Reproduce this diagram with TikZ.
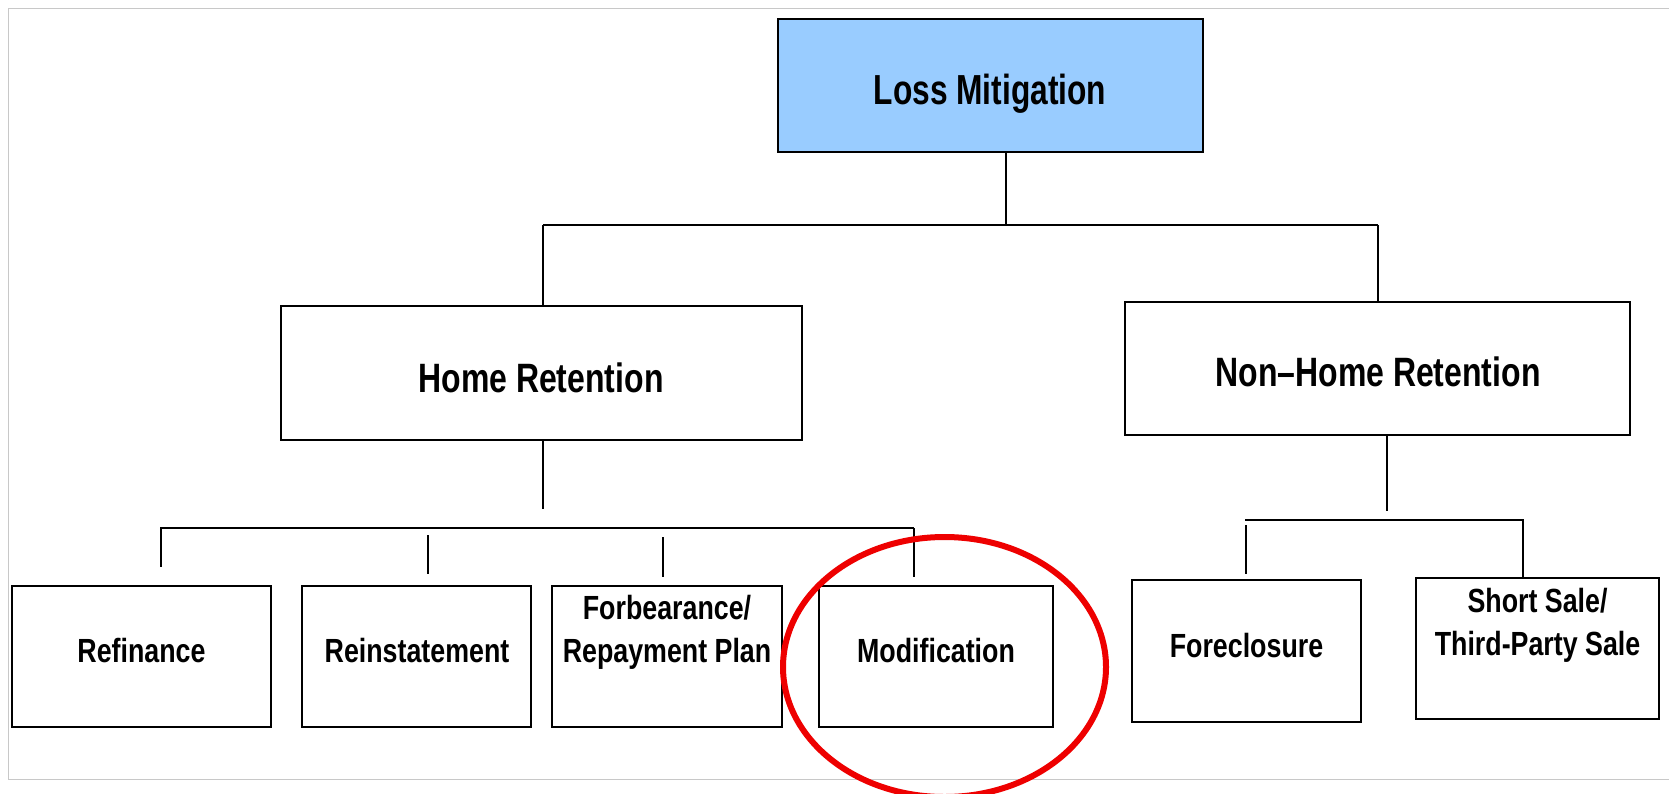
\documentclass[tikz,border=0pt]{standalone}
\usepackage{fontspec}
\newfontfamily\lmfont{Liberation Sans}[FakeStretch=0.755]
\newfontfamily\hrfont{Liberation Sans}[FakeStretch=0.78]
\newfontfamily\smfont{Liberation Sans}[FakeStretch=0.80]
\definecolor{lmblue}{RGB}{153,204,255}
\definecolor{framegray}{RGB}{200,200,200}
\definecolor{circred}{RGB}{238,0,0}
\begin{document}
\begin{tikzpicture}[x=1pt,y=-1pt,
  box/.style={draw=black, line width=2pt, inner sep=0pt, outer sep=0pt, anchor=north west},
  conn/.style={draw=black, line width=1.6pt},
  bar/.style={draw=black, line width=2.6pt},
  bigtxt/.style={font=\lmfont\bfseries\fontsize{42}{48}\selectfont, inner sep=0pt, anchor=base},
  midtxt/.style={font=\hrfont\bfseries\fontsize{41}{48}\selectfont, inner sep=0pt, anchor=base},
  smtxt/.style={font=\smfont\bfseries\fontsize{33.5}{43}\selectfont, inner sep=0pt, anchor=base, align=center},
]
\useasboundingbox (0,0) rectangle (1669,793);
\fill[white] (0,0) rectangle (1669,793);
\clip (0,0) rectangle (1669,793);

% frame
\draw[framegray, line width=1pt] (1669,8) -- (8,8) -- (8,779) -- (1669,779);

% boxes
\node[box, fill=lmblue, minimum width=425pt, minimum height=133pt] (lm) at (778,19) {};
\node[box, minimum width=521pt, minimum height=134pt] (hr) at (281,306) {};
\node[box, minimum width=505pt, minimum height=133pt] (nhr) at (1125,302) {};
\node[box, minimum width=259pt, minimum height=141pt] (ref) at (12,586) {};
\node[box, minimum width=229pt, minimum height=141pt] (rein) at (302,586) {};
\node[box, minimum width=230pt, minimum height=141pt] (forb) at (552,586) {};
\node[box, minimum width=234pt, minimum height=141pt] (mod) at (819,586) {};
\node[box, minimum width=229pt, minimum height=142pt] (fore) at (1132,580) {};
\node[box, minimum width=243pt, minimum height=141pt] (short) at (1416,578) {};

% texts
\node[bigtxt] (tlm) at (990,104) {Loss Mitigation};
\node[midtxt] (thr) at (541,392) {Home Retention};
\node[midtxt] (tnhr) at (1378,386) {Non–Home Retention};
\node[smtxt] (tref) at (141.5,662) {Refinance};
\node[smtxt] (trein) at (417,662) {Reinstatement};
\node[smtxt] (tforb) at (667,662) {Forbearance/\\Repayment Plan};
\node[smtxt] (tmod) at (936,662) {Modification};
\node[smtxt] (tfore) at (1246.5,657) {Foreclosure};
\node[smtxt] (tshort) at (1537.5,655) {Short Sale/\\Third-Party Sale};

% top level connectors
\coordinate (topM) at (1006,225);
\coordinate (topL) at (543,225);
\coordinate (topR) at (1378,225);
\draw[bar] (topL) -- (topR);
\draw[conn] (lm.south -| topM) -- (topM);
\draw[conn] (topL) -- (hr.north -| topL);
\draw[conn] (topR) -- (nhr.north -| topR);

% home retention connectors
\coordinate (hrEnd) at (543,509);
\draw[conn] (hr.south -| hrEnd) -- (hrEnd);
\coordinate (hbL) at (160,528);
\coordinate (hbR) at (914,528);
\draw[bar] (hbL) -- (hbR);
\coordinate (k1a) at (161,528); \coordinate (k1b) at (161,567);
\coordinate (k2a) at (428,535); \coordinate (k2b) at (428,574);
\coordinate (k3a) at (663,537); \coordinate (k3b) at (663,577);
\coordinate (k4a) at (914,528); \coordinate (k4b) at (914,577);
\draw[conn] (k1a) -- (k1b);
\draw[conn] (k2a) -- (k2b);
\draw[conn] (k3a) -- (k3b);
\draw[conn] (k4a) -- (k4b);

% non-home retention connectors
\coordinate (nhEnd) at (1387,511);
\draw[conn] (nhr.south -| nhEnd) -- (nhEnd);
\coordinate (nbL) at (1245,520);
\coordinate (nbR) at (1524,520);
\draw[bar] (nbL) -- (nbR);
\coordinate (k5a) at (1246,525); \coordinate (k5b) at (1246,574);
\coordinate (k6a) at (1523,520);
\draw[conn] (k5a) -- (k5b);
\draw[conn] (k6a) -- (short.north -| k6a);

% red ellipse
\draw[circred, line width=6pt] (944.5,667) ellipse [x radius=161.5pt, y radius=130pt];
\end{tikzpicture}
\end{document}
